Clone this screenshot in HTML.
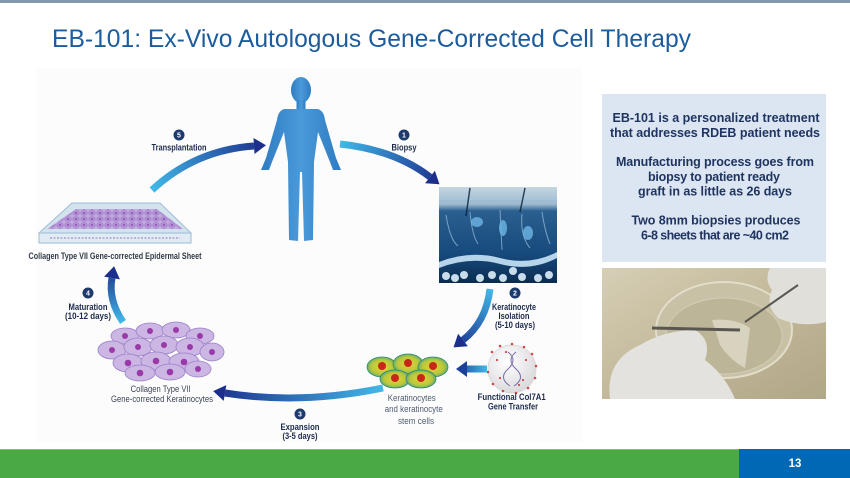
<!DOCTYPE html>
<html><head><meta charset="utf-8"><style>
html,body{margin:0;padding:0;background:#fff;}
svg{display:block;}
text{font-family:"Liberation Sans",Arial,sans-serif;}
</style></head><body>
<svg width="850" height="478" viewBox="0 0 850 478" xmlns="http://www.w3.org/2000/svg">
<defs>
<linearGradient id="a5" gradientUnits="userSpaceOnUse" x1="152" y1="190" x2="266" y2="145"><stop offset="0" stop-color="#41b8e8"/><stop offset="1" stop-color="#1d2f8c"/></linearGradient>
<linearGradient id="a1" gradientUnits="userSpaceOnUse" x1="340" y1="144" x2="440" y2="184"><stop offset="0" stop-color="#41b8e8"/><stop offset="1" stop-color="#1d2f8c"/></linearGradient>
<linearGradient id="a2" gradientUnits="userSpaceOnUse" x1="490" y1="289" x2="454" y2="348"><stop offset="0" stop-color="#41b8e8"/><stop offset="1" stop-color="#1d2f8c"/></linearGradient>
<linearGradient id="a6" gradientUnits="userSpaceOnUse" x1="487" y1="369" x2="456" y2="369"><stop offset="0" stop-color="#41b8e8"/><stop offset="1" stop-color="#1d3f9c"/></linearGradient>
<linearGradient id="a3" gradientUnits="userSpaceOnUse" x1="383" y1="388" x2="213" y2="391"><stop offset="0" stop-color="#41b8e8"/><stop offset="1" stop-color="#1d2f8c"/></linearGradient>
<linearGradient id="a4" gradientUnits="userSpaceOnUse" x1="123" y1="322" x2="114" y2="266"><stop offset="0" stop-color="#41b8e8"/><stop offset="1" stop-color="#1d2f8c"/></linearGradient>
<linearGradient id="body" x1="0" y1="0" x2="1" y2="0"><stop offset="0" stop-color="#2f7cc2"/><stop offset="0.5" stop-color="#4a9ada"/><stop offset="1" stop-color="#2f7cc2"/></linearGradient>
<linearGradient id="skin" x1="0" y1="0" x2="0" y2="1"><stop offset="0" stop-color="#c4d6e2"/><stop offset="0.18" stop-color="#9cbad0"/><stop offset="0.25" stop-color="#2a5f8f"/><stop offset="0.7" stop-color="#164a7c"/><stop offset="1" stop-color="#0c2c50"/></linearGradient>
<radialGradient id="sph" cx="0.4" cy="0.35" r="0.7"><stop offset="0" stop-color="#ffffff"/><stop offset="1" stop-color="#d8d8dc"/></radialGradient>
<radialGradient id="kc" cx="0.5" cy="0.5" r="0.6"><stop offset="0" stop-color="#e6d23a"/><stop offset="0.6" stop-color="#b8c83a"/><stop offset="1" stop-color="#2e9a8a"/></radialGradient>
<pattern id="cellpat" width="8" height="6" patternUnits="userSpaceOnUse"><rect width="8" height="6" fill="#c3a9e0"/><ellipse cx="4" cy="3" rx="3.3" ry="2.3" fill="#b392d8" stroke="#9c7cc8" stroke-width="0.6"/><circle cx="4" cy="3" r="0.9" fill="#7e3d9e"/></pattern>
<linearGradient id="photo" x1="0" y1="0" x2="1" y2="1"><stop offset="0" stop-color="#d6cfb6"/><stop offset="0.5" stop-color="#c3b899"/><stop offset="1" stop-color="#b0a688"/></linearGradient>
</defs>

<!-- top bar -->
<rect x="0" y="0" width="850" height="3" fill="#8298ac"/>

<!-- title -->
<text x="52" y="47" font-size="25" fill="#1c5c9c" textLength="639" lengthAdjust="spacingAndGlyphs">EB-101: Ex-Vivo Autologous Gene-Corrected  Cell Therapy</text>

<!-- diagram background -->
<rect x="36" y="68" width="546" height="374" fill="#fcfcfc"/>

<!-- human figure -->
<g fill="url(#body)">
<ellipse cx="301" cy="90" rx="10" ry="13"/>
<rect x="296.5" y="100" width="9" height="11"/>
<path d="M284,109 L318,109 Q324,111 325,120 L336,158 L341,170 L333,170 L330,162 L318,132 L314,162 L313,240 L304,241 L302,172 L300,172 L298,241 L289,240 L288,162 L284,132 L272,162 L269,170 L261,170 L266,158 L277,120 Q278,111 284,109 Z"/>
</g>

<!-- sheet tray -->
<g>
<polygon points="72,203 160,203 191,233 39,233" fill="#d3e3ee" stroke="#9dbdd4" stroke-width="1"/>
<polygon points="76,209 157,209 183,229 47,229" fill="url(#cellpat)"/>
<polygon points="39,233 191,233 191,243 39,243" fill="#e0ebf3" stroke="#9dbdd4" stroke-width="1"/>
<line x1="50" y1="238" x2="180" y2="238" stroke="#b0a0d0" stroke-width="1.5" stroke-dasharray="2,1.5"/>
</g>
<text x="115" y="259" font-size="9.5" font-weight="bold" fill="#333a48" text-anchor="middle" textLength="173" lengthAdjust="spacingAndGlyphs">Collagen Type VII Gene-corrected Epidermal Sheet</text>

<!-- skin image -->
<rect x="439" y="187" width="118" height="96" fill="url(#skin)"/>
<g stroke="#8fb6d6" stroke-width="1" fill="none" opacity="0.8">
<line x1="440" y1="201" x2="556" y2="201" stroke-dasharray="2,1"/>
<path d="M446,215 Q450,240 458,246 M470,212 Q472,235 478,244 M500,210 L502,250 M522,214 Q520,236 530,248 M542,212 Q545,232 550,244"/>
<path d="M470,188 L466,216 M525,188 L520,212" stroke="#0a2038" stroke-width="1.5"/>
</g>
<g fill="#6fb6e6" opacity="0.8">
<ellipse cx="477" cy="222" rx="6" ry="5"/><ellipse cx="528" cy="233" rx="5" ry="7"/><ellipse cx="503" cy="228" rx="4" ry="8"/>
</g>
<path d="M439,262 Q470,250 500,258 Q530,266 557,252 L557,258 Q530,272 500,264 Q470,256 439,268 Z" fill="#b6d4ea"/>
<g fill="#c8dcec">
<circle cx="446" cy="276" r="4"/><circle cx="455" cy="278" r="4"/><circle cx="464" cy="275" r="4"/><circle cx="480" cy="278" r="4"/><circle cx="492" cy="275" r="4"/><circle cx="503" cy="278" r="4"/><circle cx="513" cy="271" r="4"/><circle cx="522" cy="277" r="4"/><circle cx="538" cy="278" r="4"/><circle cx="549" cy="275" r="4"/>
</g>

<!-- keratinocytes green cluster -->
<g stroke="#2a8a7a" stroke-width="0.8">
<ellipse cx="382" cy="367" rx="15" ry="10" fill="url(#kc)"/>
<ellipse cx="408" cy="364" rx="15" ry="10" fill="url(#kc)"/>
<ellipse cx="433" cy="367" rx="15" ry="10" fill="url(#kc)"/>
<ellipse cx="395" cy="379" rx="15" ry="9" fill="url(#kc)"/>
<ellipse cx="421" cy="379" rx="15" ry="9" fill="url(#kc)"/>
</g>
<g fill="#c8281a">
<circle cx="382" cy="366" r="4"/><circle cx="408" cy="363" r="4"/><circle cx="433" cy="366" r="4"/><circle cx="395" cy="378" r="4"/><circle cx="421" cy="378" r="4"/>
</g>
<text font-size="9" fill="#4e5c72" text-anchor="middle">
<tspan x="413" y="401" textLength="48" lengthAdjust="spacingAndGlyphs">Keratinocytes</tspan>
<tspan x="415" y="412" textLength="58" lengthAdjust="spacingAndGlyphs">and keratinocyte</tspan>
<tspan x="416" y="424" textLength="36" lengthAdjust="spacingAndGlyphs">stem cells</tspan>
</text>

<!-- sphere -->
<circle cx="512" cy="369" r="24" fill="url(#sph)" stroke="#d4d4d8" stroke-width="0.8"/>
<g fill="#d04848">
<circle cx="492" cy="352" r="1.3"/><circle cx="500" cy="346" r="1.3"/><circle cx="512" cy="344" r="1.3"/><circle cx="524" cy="347" r="1.3"/><circle cx="532" cy="354" r="1.3"/><circle cx="536" cy="366" r="1.3"/><circle cx="535" cy="378" r="1.3"/><circle cx="528" cy="388" r="1.3"/><circle cx="516" cy="393" r="1.3"/><circle cx="503" cy="391" r="1.3"/><circle cx="493" cy="384" r="1.3"/><circle cx="488" cy="372" r="1.3"/><circle cx="497" cy="360" r="1.1"/><circle cx="526" cy="360" r="1.1"/><circle cx="523" cy="380" r="1.1"/><circle cx="500" cy="378" r="1.1"/><circle cx="506" cy="352" r="1.1"/><circle cx="519" cy="385" r="1.1"/>
</g>
<path d="M508,352 Q518,360 508,369 Q498,378 510,386 M516,352 Q506,360 516,369 Q526,378 514,386" stroke="#7a6aa8" stroke-width="1" fill="none"/>
<text font-size="9.5" font-weight="bold" fill="#1c2a4e" text-anchor="middle">
<tspan x="513" y="400" textLength="68" lengthAdjust="spacingAndGlyphs">Functional Col7A1</tspan>
<tspan x="513" y="409.5" textLength="50" lengthAdjust="spacingAndGlyphs">Gene Transfer</tspan>
</text>

<!-- purple keratinocytes -->
<g stroke="#9c80c8" stroke-width="0.8" fill="#cbb6e4">
<ellipse cx="125" cy="336" rx="14" ry="8"/><ellipse cx="150" cy="331" rx="14" ry="8"/><ellipse cx="176" cy="330" rx="14" ry="8"/><ellipse cx="200" cy="336" rx="14" ry="8"/>
<ellipse cx="112" cy="350" rx="14" ry="9"/><ellipse cx="138" cy="347" rx="14" ry="9"/><ellipse cx="164" cy="345" rx="14" ry="9"/><ellipse cx="190" cy="347" rx="14" ry="9"/><ellipse cx="212" cy="352" rx="12" ry="9"/>
<ellipse cx="128" cy="363" rx="15" ry="9"/><ellipse cx="156" cy="361" rx="15" ry="9"/><ellipse cx="184" cy="362" rx="15" ry="9"/>
<ellipse cx="140" cy="373" rx="15" ry="8"/><ellipse cx="170" cy="372" rx="15" ry="8"/><ellipse cx="198" cy="369" rx="13" ry="8"/>
</g>
<g fill="#9a3aa8">
<circle cx="125" cy="336" r="3"/><circle cx="150" cy="331" r="3"/><circle cx="176" cy="330" r="3"/><circle cx="200" cy="336" r="3"/>
<circle cx="112" cy="350" r="3"/><circle cx="138" cy="347" r="3"/><circle cx="164" cy="345" r="3"/><circle cx="190" cy="347" r="3"/><circle cx="212" cy="352" r="3"/>
<circle cx="128" cy="363" r="3.3"/><circle cx="156" cy="361" r="3.3"/><circle cx="184" cy="362" r="3.3"/>
<circle cx="140" cy="373" r="3.3"/><circle cx="170" cy="372" r="3.3"/><circle cx="198" cy="369" r="3"/>
</g>
<text font-size="9.5" fill="#3c4456" text-anchor="middle">
<tspan x="162" y="392" textLength="60" lengthAdjust="spacingAndGlyphs">Collagen Type VII</tspan>
<tspan x="162" y="402" textLength="102" lengthAdjust="spacingAndGlyphs">Gene-corrected Keratinocytes</tspan>
</text>

<!-- arrows -->
<path d="M152,190 Q195,150 254,146" stroke="url(#a5)" stroke-width="7" fill="none"/>
<polygon points="266,145.2 254.5,154 253.5,138" fill="#1d2f8c"/>

<path d="M340,144 Q395,150 430,177" stroke="url(#a1)" stroke-width="7" fill="none"/>
<polygon points="439.5,184.3 425.1,183.3 434.9,170.7" fill="#1d2f8c"/>

<path d="M490,289 Q486,322 463,340" stroke="url(#a2)" stroke-width="7" fill="none"/>
<polygon points="453.5,347.4 467.9,346.3 458.1,333.7" fill="#1d2f8c"/>

<path d="M487,369 L466,369" stroke="url(#a6)" stroke-width="7" fill="none"/>
<polygon points="456,369 467,361 467,377" fill="#1d3f9c"/>

<path d="M383,388 Q300,405 225,393" stroke="url(#a3)" stroke-width="7" fill="none"/>
<polygon points="213.2,391.1 226.3,385.1 223.7,400.9" fill="#1d2f8c"/>

<path d="M123,322 Q108,300 112,278" stroke="url(#a4)" stroke-width="7" fill="none"/>
<polygon points="114.1,266.2 119.9,279.4 104.1,276.6" fill="#1d2f8c"/>

<!-- numbered labels -->
<g fill="#1c3a6e">
<circle cx="179" cy="135" r="5.5"/><circle cx="404" cy="135" r="5.5"/><circle cx="515" cy="293" r="5.5"/><circle cx="300" cy="414" r="5.5"/><circle cx="88" cy="293" r="5.5"/>
</g>
<g font-size="7" font-weight="bold" fill="#fff" text-anchor="middle">
<text x="179" y="137.5">5</text><text x="404" y="137.5">1</text><text x="515" y="295.5">2</text><text x="300" y="416.5">3</text><text x="88" y="295.5">4</text>
</g>
<g font-size="9.5" font-weight="bold" fill="#1c2a4e" text-anchor="middle">
<text x="179" y="150.5" textLength="55" lengthAdjust="spacingAndGlyphs">Transplantation</text>
<text x="404" y="150.5" textLength="25" lengthAdjust="spacingAndGlyphs">Biopsy</text>
<text x="514" y="310" textLength="44" lengthAdjust="spacingAndGlyphs">Keratinocyte</text>
<text x="514" y="319" textLength="31" lengthAdjust="spacingAndGlyphs">Isolation</text>
<text x="515" y="328" textLength="40" lengthAdjust="spacingAndGlyphs">(5-10 days)</text>
<text x="300" y="430" textLength="39" lengthAdjust="spacingAndGlyphs">Expansion</text>
<text x="300" y="439" textLength="35" lengthAdjust="spacingAndGlyphs">(3-5 days)</text>
<text x="88" y="310" textLength="39" lengthAdjust="spacingAndGlyphs">Maturation</text>
<text x="88" y="319" textLength="46" lengthAdjust="spacingAndGlyphs">(10-12 days)</text>
</g>

<!-- text box -->
<rect x="602" y="94" width="224" height="168" fill="#dce6f2"/>
<g font-size="12.5" font-weight="bold" fill="#1f3460" text-anchor="middle">
<text x="716" y="122" textLength="207" lengthAdjust="spacing">EB-101 is a personalized treatment</text>
<text x="715" y="137" textLength="210" lengthAdjust="spacing">that addresses RDEB patient needs</text>
<text x="715" y="166" textLength="198" lengthAdjust="spacing">Manufacturing process goes from</text>
<text x="714" y="181" textLength="132" lengthAdjust="spacing">biopsy to patient ready</text>
<text x="715" y="195.5" textLength="154" lengthAdjust="spacing">graft in as little as 26 days</text>
<text x="716" y="224.5" textLength="169" lengthAdjust="spacing">Two 8mm biopsies produces</text>
<text x="715" y="239.5" textLength="148" lengthAdjust="spacing">6-8 sheets that are ~40 cm2</text>
</g>

<!-- photo -->
<rect x="602" y="268" width="224" height="131" fill="url(#photo)"/>
<ellipse cx="724" cy="330" rx="68" ry="48" fill="#c9c1a6" stroke="#e2ddca" stroke-width="2"/>
<ellipse cx="724" cy="336" rx="58" ry="38" fill="#bdb597" stroke="#d3cdb8" stroke-width="1"/>
<path d="M712,320 Q735,318 750,328 L745,368 Q730,360 720,345 Z" fill="#d8d3bf"/>
<path d="M610,399 Q605,360 640,345 Q665,330 695,330 Q712,340 705,360 Q725,375 735,399 Z" fill="#e4e2de"/>
<path d="M770,268 L826,268 L826,322 Q800,328 778,318 Q765,305 772,290 Q764,280 770,268 Z" fill="#e1dfda"/>
<line x1="652" y1="328" x2="740" y2="330" stroke="#5a5750" stroke-width="3"/>
<line x1="745" y1="322" x2="798" y2="285" stroke="#5a5750" stroke-width="2"/>

<!-- footer -->
<rect x="0" y="449" width="739" height="29" fill="#4aa945"/>
<rect x="0" y="449" width="739" height="1" fill="#7cc076"/>
<rect x="739" y="449" width="111" height="29" fill="#0068b4"/>
<text x="795" y="467" font-size="11.5" font-weight="bold" fill="#fff" text-anchor="middle">13</text>
</svg>
</body></html>
